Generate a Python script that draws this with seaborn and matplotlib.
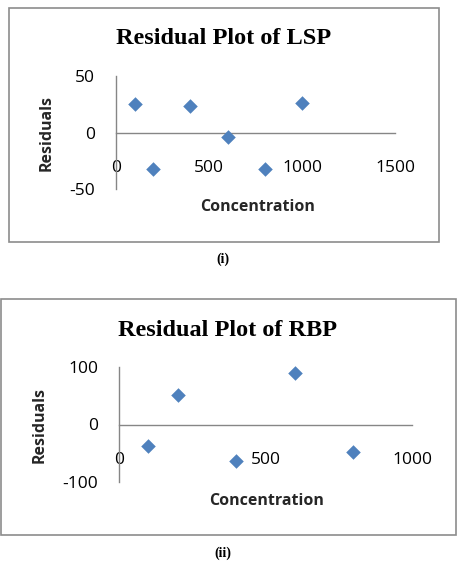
import numpy as np
import matplotlib
matplotlib.use('Agg')
import matplotlib.pyplot as plt
import seaborn as sns
import pandas as pd
from matplotlib.patches import Rectangle

# values
lsp_conc = [100, 200, 400, 600, 800, 1000]
lsp_resid = [25.0, -32.5, 23.5, -4.0, -32.5, 25.8]
rbp_conc = [100, 200, 400, 600, 800]
rbp_resid = [-37, 52, -64, 89, -47]

lsp_xticks = [0, 500, 1000, 1500]
lsp_yticks = [-50, 0, 50]
rbp_xticks = [0, 500, 1000]
rbp_yticks = [-100, 0, 100]

sns.set_style('white')
plt.rcParams['font.family'] = ['Open Sans', 'DejaVu Sans']
plt.rcParams['axes.unicode_minus'] = False

W, H = 458, 562
fig = plt.figure(figsize=(W / 100, H / 100), dpi=100)

blue = '#4F81BD'
axis_grey = '#868686'


def px_rect(x0, y0, x1, y1):
    # pixel box (top-left origin) -> figure fraction [l, b, w, h]
    return [x0 / W, 1 - y1 / H, (x1 - x0) / W, (y1 - y0) / H]


def residual_panel(box, ax_px, x, y, xticks, yticks, xlim, ylim, title,
                   title_xy, ylab_xy, xlab_xy, caption, caption_xy):
    # bordered chart area like an Excel chart
    l, b, w, h = px_rect(*box)
    fig.patches.append(Rectangle((l, b), w, h, transform=fig.transFigure,
                                 fill=False, edgecolor='#8c8c8c', lw=1.2))
    ax = fig.add_axes(px_rect(*ax_px))
    df = pd.DataFrame({'Concentration': x, 'Residuals': y})
    sns.scatterplot(data=df, x='Concentration', y='Residuals', ax=ax,
                    marker='D', s=55, color=blue, linewidth=0, zorder=3,
                    clip_on=False)
    ax.set_xlim(*xlim)
    ax.set_ylim(*ylim)
    ax.set_xticks(xticks)
    ax.set_yticks(yticks)
    ax.set_xlabel('')
    ax.set_ylabel('')
    ax.patch.set_alpha(0)
    for s in ['top', 'right']:
        ax.spines[s].set_visible(False)
    ax.spines['bottom'].set_position(('data', 0))
    for s in ['left', 'bottom']:
        ax.spines[s].set_color(axis_grey)
        ax.spines[s].set_linewidth(1.0)
    ax.tick_params(axis='both', colors=axis_grey, labelcolor='black',
                   labelsize=12.5, length=4, width=1.0, direction='out')
    ax.tick_params(axis='x', pad=16)
    ax.tick_params(axis='y', pad=11)

    fig.text(title_xy[0] / W, 1 - title_xy[1] / H, title,
             family='Liberation Serif', weight='bold', fontsize=17.5,
             color='black', ha='center', va='center')
    fig.text(ylab_xy[0] / W, 1 - ylab_xy[1] / H, 'Residuals',
             weight='bold', fontsize=11.5, rotation=90,
             ha='center', va='center')
    fig.text(xlab_xy[0] / W, 1 - xlab_xy[1] / H, 'Concentration',
             weight='bold', fontsize=11.5, ha='center', va='center')
    fig.text(caption_xy[0] / W, 1 - caption_xy[1] / H, caption,
             family='Liberation Serif', weight='bold', fontsize=10,
             color='black', ha='center', va='center')
    return ax


residual_panel((9, 8, 439, 242), (116, 76, 395, 189),
               lsp_conc, lsp_resid, lsp_xticks, lsp_yticks,
               (0, 1500), (-50, 50), 'Residual Plot of LSP',
               (224, 38), (47, 133), (258, 207), '(i)', (223, 259))

residual_panel((1, 299, 456, 535), (119, 367, 412, 482),
               rbp_conc, rbp_resid, rbp_xticks, rbp_yticks,
               (0, 1000), (-100, 100), 'Residual Plot of RBP',
               (227, 330), (40, 425), (267, 501), '(ii)', (223, 553))

fig.savefig('out.png', dpi=100)
